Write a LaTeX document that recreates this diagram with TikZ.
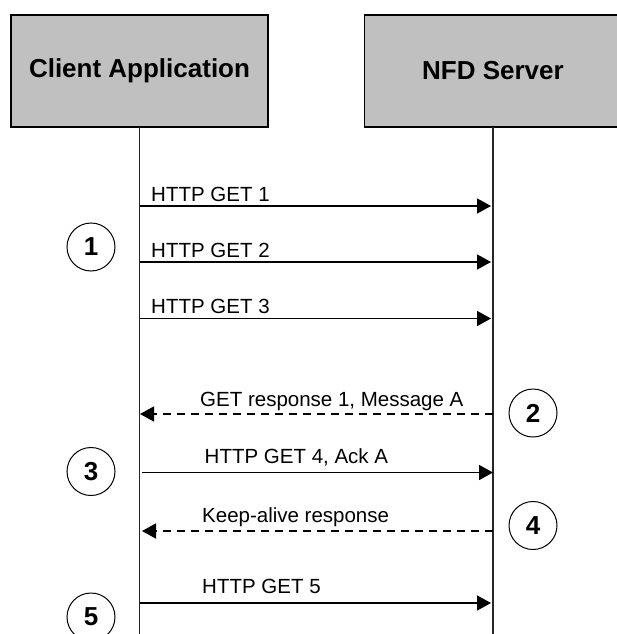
\documentclass[tikz,border=0pt]{standalone}
\usepackage{fontspec}
\setmainfont{Liberation Sans}
\usetikzlibrary{arrows.meta}
\definecolor{boxgray}{HTML}{C0C0C0}
\begin{document}
\begin{tikzpicture}[x=1pt,y=-1pt,
  actor/.style={draw=black, line width=1.6pt, fill=boxgray, minimum width=257pt, minimum height=112pt, inner sep=0pt, outer sep=0pt, font=\bfseries\fontsize{26}{30}\selectfont},
  life/.style={line width=1.5pt, draw=black!85},
  msg/.style={line width=1.6pt, -{Triangle[length=14pt,width=15pt]}},
  reply/.style={msg, dash pattern=on 8pt off 6pt},
  lbl/.style={anchor=base west, inner sep=0pt, font=\fontsize{20.5}{24}\selectfont},
  stepnum/.style={circle, draw=black, line width=1pt, minimum size=48pt, inner sep=0pt, font=\bfseries\fontsize{26}{30}\selectfont}
]
\useasboundingbox (0,0) rectangle (617,634);
\clip (0,0) rectangle (617,634);

% actors
\node[actor] (client) at (139.5,71) {Client Application};
\node[actor] (server) at (493,71) {NFD Server};
\coordinate (cend) at (139.5,640);
\coordinate (send) at (493,640);
\draw[life] (client.south) -- (cend);
\draw[life] (server.south) -- (send);

% messages
\coordinate (c1) at (139.5,206);   \coordinate (s1) at (491,206);
\coordinate (c2) at (139.5,262);   \coordinate (s2) at (491,262);
\coordinate (c3) at (139.5,318.5); \coordinate (s3) at (491,318.5);
\coordinate (c4) at (140,414);     \coordinate (s4) at (493,414);
\coordinate (c5) at (142,472.5);   \coordinate (s5) at (493,472.5);
\coordinate (c6) at (142,531);     \coordinate (s6) at (493,531);
\coordinate (c7) at (139.5,603);   \coordinate (s7) at (491,603);

\draw[msg] (c1) -- (s1);
\draw[msg] (c2) -- (s2);
\draw[msg] (c3) -- (s3);
\draw[reply] (s4) -- (c4);
\draw[msg] (c5) -- (s5);
\draw[reply] (s6) -- (c6);
\draw[msg] (c7) -- (s7);

\node[lbl] (l1) at (151,201) {HTTP GET 1};
\node[lbl] (l2) at (151,257) {HTTP GET 2};
\node[lbl] (l3) at (151,313) {HTTP GET 3};
\node[lbl] (l4) at (200,406) {GET response 1, Message A};
\node[lbl] (l5) at (204.5,463) {HTTP GET 4, Ack A};
\node[lbl] (l6) at (202,522) {Keep-alive response};
\node[lbl] (l7) at (202,593) {HTTP GET 5};

% step numbers
\node[stepnum] (n1) at (91,247) {1};
\node[stepnum] (n2) at (533,413) {2};
\node[stepnum] (n3) at (91,471.5) {3};
\node[stepnum] (n4) at (533,525.5) {4};
\node[stepnum] (n5) at (91,617) {5};
\end{tikzpicture}
\end{document}
